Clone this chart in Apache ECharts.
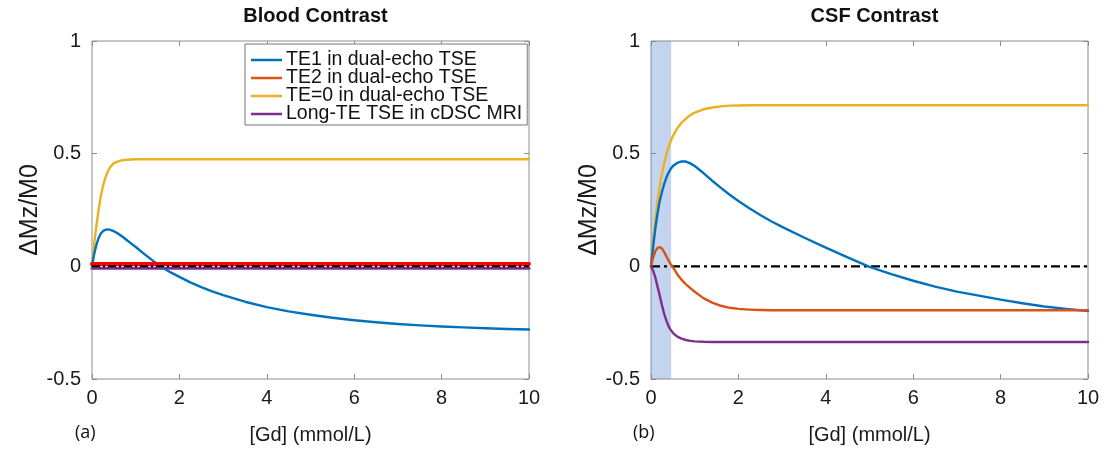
<!DOCTYPE html>
<html>
<head>
<meta charset="utf-8">
<title>Blood and CSF Contrast</title>
<script src="https://cdn.jsdelivr.net/npm/echarts@6/dist/echarts.min.js"></script>
<style>
  html, body { margin: 0; padding: 0; background: #fff; }
  #chart { width: 1106px; height: 453px; }
</style>
</head>
<body>
<div id="chart"></div>
<script>
// Gd concentration samples (mmol/L)
const gdX = [0, 0.05, 0.1, 0.15, 0.2, 0.25, 0.3, 0.35, 0.4, 0.45, 0.5, 0.6, 0.7, 0.8, 0.9, 1.0, 1.2, 1.4, 1.6, 1.8, 2.0, 2.25, 2.5, 2.75, 3.0, 3.5, 4, 4.5, 5, 5.5, 6, 6.5, 7, 7.5, 8, 8.5, 9, 9.5, 10];

// Blood contrast (ΔMz/M0)
const bloodTE1  = [0, 0.055, 0.095, 0.125, 0.145, 0.156, 0.162, 0.164, 0.163, 0.16, 0.156, 0.145, 0.131, 0.116, 0.101, 0.086, 0.054, 0.024, -0.004, -0.027, -0.047, -0.071, -0.092, -0.111, -0.128, -0.157, -0.181, -0.2, -0.215, -0.228, -0.239, -0.248, -0.256, -0.262, -0.267, -0.271, -0.275, -0.278, -0.28];
const bloodTE0  = [0, 0.1, 0.18, 0.25, 0.31, 0.355, 0.39, 0.415, 0.435, 0.448, 0.458, 0.466, 0.471, 0.473, 0.474, 0.475, 0.475, 0.475, 0.475, 0.475, 0.475, 0.475, 0.475, 0.475, 0.475, 0.475, 0.475, 0.475, 0.475, 0.475, 0.475, 0.475, 0.475, 0.475, 0.475, 0.475, 0.475, 0.475, 0.475];
const bloodLong = [-0.008, -0.008, -0.008, -0.008, -0.008, -0.008, -0.008, -0.008, -0.008, -0.008, -0.008, -0.008, -0.008, -0.008, -0.008, -0.008, -0.008, -0.008, -0.008, -0.008, -0.008, -0.008, -0.008, -0.008, -0.008, -0.008, -0.008, -0.008, -0.008, -0.008, -0.008, -0.008, -0.008, -0.008, -0.008, -0.008, -0.008, -0.008, -0.008];
const bloodRef  = [0.01, 0.01, 0.01, 0.01, 0.01, 0.01, 0.01, 0.01, 0.01, 0.01, 0.01, 0.01, 0.01, 0.01, 0.01, 0.01, 0.01, 0.01, 0.01, 0.01, 0.01, 0.01, 0.01, 0.01, 0.01, 0.01, 0.01, 0.01, 0.01, 0.01, 0.01, 0.01, 0.01, 0.01, 0.01, 0.01, 0.01, 0.01, 0.01];

// CSF contrast (ΔMz/M0)
const csfTE1  = [0, 0.09, 0.17, 0.235, 0.29, 0.33, 0.365, 0.393, 0.415, 0.432, 0.445, 0.459, 0.466, 0.465, 0.457, 0.445, 0.414, 0.38, 0.348, 0.318, 0.29, 0.258, 0.228, 0.2, 0.175, 0.128, 0.083, 0.04, -0.002, -0.035, -0.064, -0.09, -0.112, -0.13, -0.148, -0.164, -0.178, -0.189, -0.198];
const csfTE2  = [0, 0.04, 0.068, 0.082, 0.085, 0.079, 0.064, 0.045, 0.026, 0.01, -0.004, -0.035, -0.06, -0.08, -0.097, -0.113, -0.141, -0.161, -0.175, -0.184, -0.189, -0.192, -0.194, -0.195, -0.195, -0.195, -0.195, -0.195, -0.195, -0.195, -0.195, -0.195, -0.195, -0.195, -0.195, -0.195, -0.195, -0.195, -0.195];
const csfTE0  = [0, 0.12, 0.21, 0.29, 0.355, 0.41, 0.455, 0.495, 0.528, 0.555, 0.578, 0.612, 0.638, 0.656, 0.671, 0.682, 0.697, 0.705, 0.71, 0.713, 0.714, 0.715, 0.715, 0.715, 0.715, 0.715, 0.715, 0.715, 0.715, 0.715, 0.715, 0.715, 0.715, 0.715, 0.715, 0.715, 0.715, 0.715, 0.715];
const csfLong = [0, -0.02, -0.05, -0.09, -0.13, -0.172, -0.21, -0.24, -0.265, -0.282, -0.295, -0.312, -0.321, -0.327, -0.331, -0.333, -0.335, -0.336, -0.336, -0.336, -0.336, -0.336, -0.336, -0.336, -0.336, -0.336, -0.336, -0.336, -0.336, -0.336, -0.336, -0.336, -0.336, -0.336, -0.336, -0.336, -0.336, -0.336, -0.336];

// Zero reference line and shaded low-dose window
const zeroLine = [[0, 0], [10, 0]];
const lowDoseBand = [0, 0.46];

const xTicks = [0, 2, 4, 6, 8, 10];
const yTicks = [-0.5, 0, 0.5, 1];

const seriesNames = ['TE1 in dual-echo TSE', 'TE2 in dual-echo TSE', 'TE=0 in dual-echo TSE', 'Long-TE TSE in cDSC MRI'];
const titles = ['Blood Contrast', 'CSF Contrast'];
const panelTags = ['(a)', '(b)'];

const C = { blue: '#0072BD', orange: '#D95319', yellow: '#EDB120', purple: '#7E2F8E', red: '#FF0000', frame: '#8c8c8c' };
const FONT = 'Liberation Sans, Arial, Helvetica, sans-serif';

const pairs = ys => gdX.map((x, i) => [x, ys[i]]);

const grids = [
  { left: 92, top: 41, width: 437, height: 338 },
  { left: 651, top: 41, width: 437, height: 338 }
];

function xAxes(gi) {
  const base = {
    type: 'value', gridIndex: gi, min: xTicks[0], max: xTicks[xTicks.length - 1], interval: 2,
    axisLine: { show: false, onZero: false }, splitLine: { show: false },
    axisTick: { show: true, inside: true, length: 5, lineStyle: { color: C.frame } }
  };
  return [
    Object.assign({}, base, {
      position: 'bottom',
      axisLabel: { fontFamily: FONT, fontSize: 20, color: '#1a1a1a', margin: 9 },
      name: '[Gd] (mmol/L)', nameLocation: 'middle', nameGap: 46,
      nameTextStyle: { fontFamily: FONT, fontSize: 20, color: '#1a1a1a' }
    }),
    Object.assign({}, base, { position: 'top', axisLabel: { show: false } })
  ];
}

function yAxes(gi) {
  const base = {
    type: 'value', gridIndex: gi, min: yTicks[0], max: yTicks[yTicks.length - 1], interval: 0.5,
    axisLine: { show: false, onZero: false }, splitLine: { show: false },
    axisTick: { show: true, inside: true, length: 5, lineStyle: { color: C.frame } }
  };
  return [
    Object.assign({}, base, {
      position: 'left',
      axisLabel: { fontFamily: FONT, fontSize: 20, color: '#1a1a1a', margin: 11 },
      name: 'ΔMz/M0', nameLocation: 'middle', nameGap: 49,
      nameTextStyle: { fontFamily: FONT, fontSize: 25, color: '#1a1a1a' }
    }),
    Object.assign({}, base, { position: 'right', axisLabel: { show: false } })
  ];
}

function curve(name, ys, color, axisIdx, width, z) {
  return {
    type: 'line', name, data: pairs(ys), xAxisIndex: axisIdx * 2, yAxisIndex: axisIdx * 2,
    showSymbol: false, smooth: false, z: z || 3,
    lineStyle: { color, width: width || 2.4, join: 'round', cap: 'round' }, itemStyle: { color }
  };
}

const option = {
  backgroundColor: '#ffffff',
  animation: false,
  title: titles.map((t, i) => ({
    text: t, left: grids[i].left + grids[i].width / 2, top: 1, textAlign: 'center',
    textStyle: { fontFamily: FONT, fontSize: 20, fontWeight: 'bold', color: '#111' }
  })),
  grid: grids.map(g => Object.assign({ show: true, borderColor: C.frame, borderWidth: 1, backgroundColor: '#fff' }, g)),
  xAxis: [...xAxes(0), ...xAxes(1)],
  yAxis: [...yAxes(0), ...yAxes(1)],
  legend: {
    orient: 'vertical', left: 245, top: 44,
    data: seriesNames.map(n => ({ name: n, icon: 'rect' })),
    itemWidth: 31, itemHeight: 2.5, itemGap: -2,
    selectedMode: false,
    backgroundColor: '#fff', borderColor: '#777', borderWidth: 1,
    padding: [6, 5, 1, 6],
    textStyle: { fontFamily: FONT, fontSize: 19.5, color: '#111', padding: [0, 0, 0, -1] }
  },
  graphic: panelTags.map((t, i) => ({
    type: 'text', left: i === 0 ? 75 : 633, top: 424,
    style: { text: t, font: '18px "Open Sans", sans-serif', fill: '#111' }
  })),
  series: [
    // Blood panel
    curve(seriesNames[3], bloodLong, C.purple, 0, 3, 3),
    curve('reference', bloodRef, C.red, 0, 4, 4),
    {
      type: 'line', name: 'zero-a', data: zeroLine, xAxisIndex: 0, yAxisIndex: 0, showSymbol: false, z: 5,
      lineStyle: { color: '#000', width: 2, type: [8, 3, 2, 3] }
    },
    curve(seriesNames[2], bloodTE0, C.yellow, 0),
    curve(seriesNames[0], bloodTE1, C.blue, 0),
    // CSF panel
    {
      type: 'line', name: 'zero-b', data: zeroLine, xAxisIndex: 2, yAxisIndex: 2, showSymbol: false, z: 2,
      lineStyle: { color: '#000', width: 2.4, type: [9, 4, 3, 4] }
    },
    curve(seriesNames[2], csfTE0, C.yellow, 1),
    curve(seriesNames[0], csfTE1, C.blue, 1),
    curve(seriesNames[1], csfTE2, C.orange, 1),
    curve(seriesNames[3], csfLong, C.purple, 1),
    {
      type: 'line', name: 'band', data: [], xAxisIndex: 2, yAxisIndex: 2, z: 10,
      markArea: {
        silent: true,
        itemStyle: { color: 'rgba(100,140,210,0.38)' },
        data: [[{ xAxis: lowDoseBand[0] }, { xAxis: lowDoseBand[1] }]]
      }
    }
  ]
};

const chart = echarts.init(document.getElementById('chart'), null, { renderer: 'canvas' });
chart.setOption(option);
</script>
</body>
</html>
